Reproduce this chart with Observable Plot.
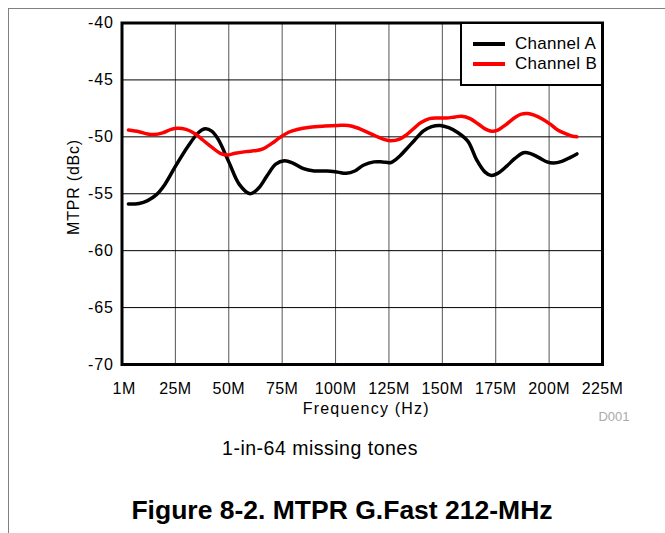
<!DOCTYPE html>
<html>
<head>
<meta charset="utf-8">
<script src="https://cdn.jsdelivr.net/npm/d3@7"></script>
<script src="https://cdn.jsdelivr.net/npm/@observablehq/plot@0.6"></script>
<style>
  html, body { margin: 0; padding: 0; background: #fff; }
  #page { position: relative; width: 665px; height: 533px; overflow: hidden; font-family: "Liberation Sans", Arial, sans-serif; }
  #borderTop { position: absolute; left: 8px; top: 8px; width: 657px; height: 0; border-top: 1px solid #808080; }
  #borderLeft { position: absolute; left: 8px; top: 8px; width: 0; height: 525px; border-left: 1px solid #808080; }
  #chart { position: absolute; left: 0; top: 0; }
  #chart g[aria-label="y-axis tick label"] { letter-spacing: 1px; }
  #chart g[aria-label="x-axis tick label"] { letter-spacing: 0.4px; }
  #chart g.xlab { letter-spacing: 1.2px; }
  #ylabel { position: absolute; left: 74px; top: 187px; width: 0; height: 0; }
  #ylabel span { position: absolute; left: 0; top: 0; transform: translate(-50%, -50%) rotate(-90deg); white-space: nowrap; font-size: 16px; letter-spacing: 0.8px; color: #000; line-height: 16px; }
  #legend { position: absolute; left: 460px; top: 22px; width: 139px; height: 60px; border: 2px solid #000; background: #fff; box-sizing: content-box; }
  .lrow { position: absolute; left: 0; height: 20px; width: 139px; }
  .lswatch { position: absolute; left: 11px; top: 8px; width: 32px; height: 4px; }
  .ltext { position: absolute; left: 53px; top: 0; font-size: 17px; line-height: 20px; letter-spacing: 0.3px; color: #000; white-space: nowrap; }
  #subtitle { position: absolute; left: 0; width: 640px; text-align: center; top: 437px; font-size: 19.5px; letter-spacing: 0.5px; color: #000; }
  #title { position: absolute; left: 0; width: 684px; text-align: center; top: 495px; font-size: 26.5px; font-weight: bold; color: #000; }
</style>
</head>
<body>
<div id="page">
  <div id="borderTop"></div>
  <div id="borderLeft"></div>
  <div id="chart"></div>
  <div id="ylabel"><span></span></div>
  <div id="legend"></div>
  <div id="subtitle"></div>
  <div id="title"></div>
</div>
<script>
// ---- Data ----
const seriesNames = ["Channel A", "Channel B"];
const seriesColors = ["#000000", "#ff0000"];

const freqA = [3, 8, 12, 16, 20, 25, 31, 36, 39, 42, 45, 50, 55, 60, 64, 68, 72, 76, 80, 85, 90, 96, 101, 105, 109, 113, 118, 122, 126, 130, 134, 137, 141, 145, 149, 153, 157, 162, 166, 170, 173, 176, 180, 184, 188, 191, 195, 199, 202, 206, 210, 213];
const mtprA = [-55.9, -55.85, -55.6, -55.1, -54.2, -52.6, -50.8, -49.6, -49.3, -49.5, -50.2, -52.2, -54.2, -55.0, -54.5, -53.4, -52.4, -52.1, -52.3, -52.8, -53.0, -53.0, -53.1, -53.2, -53.0, -52.5, -52.2, -52.2, -52.25, -51.7, -50.9, -50.3, -49.5, -49.1, -49.0, -49.2, -49.6, -50.4, -52.0, -53.1, -53.4, -53.2, -52.6, -51.9, -51.4, -51.45, -51.8, -52.2, -52.3, -52.15, -51.8, -51.5];

const freqB = [3, 8, 12, 15, 19, 23, 26, 30, 34, 38, 42, 46, 49, 53, 58, 63, 66, 70, 74, 78, 82, 88, 95, 101, 106, 110, 115, 119, 123, 126, 130, 133, 137, 140, 144, 148, 152, 156, 159, 163, 167, 170, 173, 176, 180, 184, 187, 190, 193, 197, 201, 204, 208, 211, 213];
const mtprB = [-49.4, -49.55, -49.75, -49.8, -49.65, -49.35, -49.25, -49.35, -49.7, -50.3, -50.9, -51.45, -51.6, -51.45, -51.3, -51.2, -51.05, -50.6, -50.05, -49.6, -49.35, -49.15, -49.05, -49.0, -49.0, -49.2, -49.6, -49.95, -50.25, -50.35, -50.2, -49.85, -49.2, -48.75, -48.4, -48.35, -48.35, -48.25, -48.2, -48.4, -48.9, -49.3, -49.5, -49.4, -48.9, -48.3, -48.0, -47.95, -48.1, -48.45, -48.95, -49.4, -49.75, -49.95, -50.0];

const xTicks = [1, 25, 50, 75, 100, 125, 150, 175, 200, 225];
const xTickLabels = ["1M", "25M", "50M", "75M", "100M", "125M", "150M", "175M", "200M", "225M"];
const xDomain = [0, 225];
const yTicks = [-70, -65, -60, -55, -50, -45, -40];
const yTickLabels = ["-70", "-65", "-60", "-55", "-50", "-45", "-40"];
const yDomain = [-70, -40];

const xLabel = "Frequency (Hz)";
const yLabel = "MTPR (dBc)";
const codeLabel = "D001";
const subtitleText = "1-in-64 missing tones";
const titleText = "Figure 8-2. MTPR G.Fast 212-MHz";

// ---- Build table ----
const rows = [];
freqA.forEach((f, i) => rows.push({series: seriesNames[0], f, v: mtprA[i]}));
freqB.forEach((f, i) => rows.push({series: seriesNames[1], f, v: mtprB[i]}));

const font = "Liberation Sans, Arial, sans-serif";

const chart = Plot.plot({
  width: 665,
  height: 430,
  marginLeft: 121.5,
  marginRight: 63,
  marginTop: 22.5,
  marginBottom: 66,
  style: { fontFamily: font, background: "transparent", color: "#000", overflow: "visible" },
  x: { domain: xDomain, ticks: xTicks },
  y: { domain: yDomain, ticks: yTicks },
  color: { domain: seriesNames, range: seriesColors },
  marks: [
    Plot.gridX(xTicks.slice(1, -1), { stroke: "#555", strokeOpacity: 1, strokeWidth: 1 }),
    Plot.gridY(yTicks.slice(1, -1), { stroke: "#000", strokeOpacity: 1, strokeWidth: 1 }),
    Plot.line(rows, { x: "f", y: "v", z: "series", stroke: "series", strokeWidth: 3.5, curve: "catmull-rom" }),
    Plot.frame({ stroke: "#000", strokeWidth: 3 }),
    Plot.axisY(yTicks, { tickSize: 0, tickPadding: 8, fontSize: 16, label: null, tickFormat: (d) => yTickLabels[yTicks.indexOf(d)] }),
    Plot.axisX(xTicks, { tickSize: 0, tickPadding: 18, fontSize: 16, label: null, tickFormat: (d) => xTickLabels[xTicks.indexOf(d)] }),
    Plot.text([xLabel], { text: (d) => d, frameAnchor: "bottom", lineAnchor: "bottom", dx: 4, dy: 49, fontSize: 16, className: "xlab" }),
    Plot.text([codeLabel], { text: (d) => d, frameAnchor: "bottom-right", textAnchor: "end", lineAnchor: "bottom", dx: 27, dy: 56, fontSize: 13, fill: "#aaaaaa" })
  ]
});
document.getElementById("chart").appendChild(chart);

// y label
document.querySelector("#ylabel span").textContent = yLabel;

// ---- Legend ----
const legend = document.getElementById("legend");
seriesNames.forEach((name, i) => {
  const row = document.createElement("div");
  row.className = "lrow";
  row.style.top = (10 + i * 20) + "px";
  const sw = document.createElement("div");
  sw.className = "lswatch";
  sw.style.background = seriesColors[i];
  const tx = document.createElement("div");
  tx.className = "ltext";
  tx.textContent = name;
  row.appendChild(sw);
  row.appendChild(tx);
  legend.appendChild(row);
});

document.getElementById("subtitle").textContent = subtitleText;
document.getElementById("title").textContent = titleText;
</script>
</body>
</html>
